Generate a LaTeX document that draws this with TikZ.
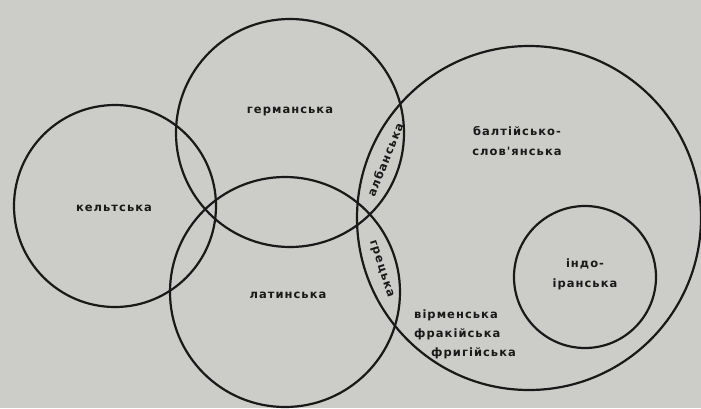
\documentclass[tikz,border=0pt]{standalone}
\usepackage{fontspec}
\newfontfamily\labfont{DejaVu Sans}[LetterSpace=9]
\definecolor{bgc}{RGB}{204,204,201}
\definecolor{ink}{RGB}{25,25,25}
\begin{document}
\begin{tikzpicture}[x=1pt,y=-1pt,
  ring/.style={draw=ink, line width=2.2pt, circle, inner sep=0pt},
  lab/.style={text=ink, font=\labfont\bfseries\fontsize{11.5}{20}\selectfont, inner sep=0pt, align=center}]
\fill[bgc] (0,0) rectangle (701,408);
\useasboundingbox (0,0) rectangle (701,408);
% circles
\node[ring, minimum size=202pt] (celt) at (115,206) {};
\node[ring, minimum size=228pt] (germ) at (290,133) {};
\node[ring, minimum size=230pt] (lat) at (285,292) {};
\node[ring, minimum size=344pt] (balt) at (529,218) {};
\node[ring, minimum size=142pt] (indo) at (585,277) {};
% labels
\node[lab] (lcelt) at (114,208) {кельтська};
\node[lab] (lgerm) at (290,111) {германська};
\node[lab] (llat) at (288,295) {латинська};
\node[lab] (lbalt) at (517,141) {балтійсько-\\слов'янська};
\node[lab] (lindo) at (585,274) {індо-\\іранська};
\node[lab, rotate=68] (lalb) at (385,160) {албанська};
\node[lab, rotate=-72] (lgr) at (381,269) {грецька};
\node[lab, anchor=west] (larm) at (414,315) {вірменська};
\node[lab, anchor=west] (lthr) at (414,334) {фракійська};
\node[lab, anchor=west] (lphr) at (431,353) {фригійська};
\end{tikzpicture}
\end{document}
